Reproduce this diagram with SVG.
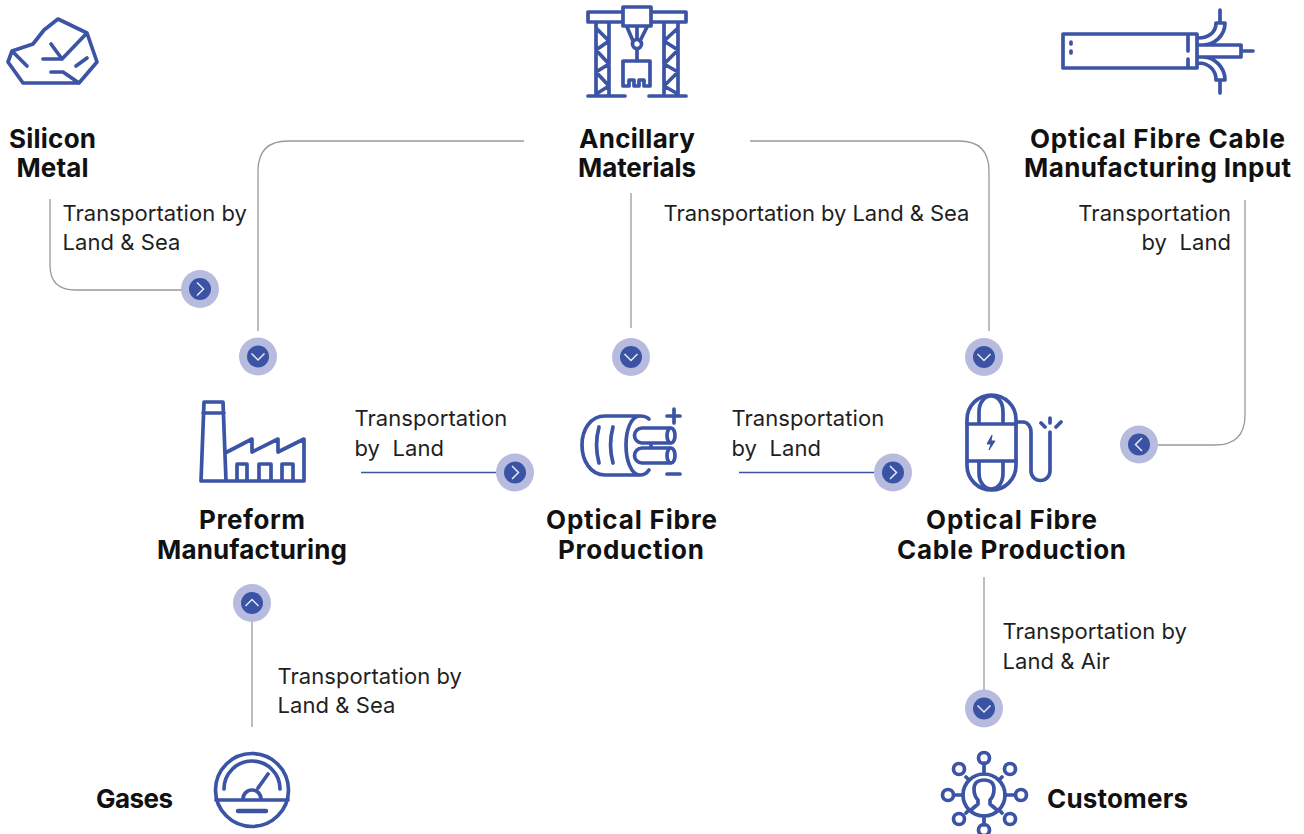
<svg xmlns="http://www.w3.org/2000/svg" width="1304" height="834" viewBox="0 0 1304 834">
<style>
.t{font-family:"Inter","Liberation Sans",sans-serif;font-size:22px;letter-spacing:.06px;fill:#1f1f1f}
.h{font-family:"Inter","Liberation Sans",sans-serif;font-size:26px;font-weight:700;fill:#111;text-anchor:middle}
.i{fill:none;stroke:#3b54a5;stroke-width:3.7;stroke-linejoin:round;stroke-linecap:round}
.g{fill:none;stroke:#9a9a9a;stroke-width:1.3}
.b{fill:none;stroke:#3b54a5;stroke-width:1.3}
.ch{fill:none;stroke:#e8e9f4;stroke-width:1.5}
</style>
<defs>
<g id="badge"><circle r="19" fill="#b7bcdf"/><circle r="11" fill="#3a53a4"/><path class="ch" d="M-3-6.500 3.500 0-3 6.500"/></g>
</defs>
<g id="connectors">
<path class="g" d="M50 199V265Q50 290 75 290H182"/>
<path class="g" d="M524 141H288Q258 141 258 171V331"/>
<path class="g" d="M631 193V328"/>
<path class="g" d="M750 141H959Q989 141 989 171V331"/>
<path class="g" d="M1245 200V415Q1245 445 1215 445H1157"/>
<path class="b" d="M361 472.500H497"/>
<path class="b" d="M739 472.500H875"/>
<path class="g" d="M252 621V727"/>
<path class="g" d="M984 577V691"/>
<use href="#badge" transform="translate(200 289)"/>
<use href="#badge" transform="translate(258 356.500) rotate(90)"/>
<use href="#badge" transform="translate(631 357) rotate(90)"/>
<use href="#badge" transform="translate(984 357) rotate(90)"/>
<use href="#badge" transform="translate(1139 444.500) rotate(180)"/>
<use href="#badge" transform="translate(515 472.500)"/>
<use href="#badge" transform="translate(893 472.500)"/>
<use href="#badge" transform="translate(252 603) rotate(-90)"/>
<use href="#badge" transform="translate(984 708.500) rotate(90)"/>
<text class="t" x="62.500" y="221">Transportation by</text>
<text class="t" x="62.500" y="250">Land &amp; Sea</text>
<text class="t" x="663.500" y="221" textLength="306">Transportation by Land &amp; Sea</text>
<text class="t" x="1231" y="221" text-anchor="end">Transportation</text>
<text class="t" x="1231" y="250" text-anchor="end" xml:space="preserve">by  Land</text>
<text class="t" x="354.500" y="426">Transportation</text>
<text class="t" x="354.500" y="456" xml:space="preserve">by  Land</text>
<text class="t" x="731.500" y="426">Transportation</text>
<text class="t" x="731.500" y="456" xml:space="preserve">by  Land</text>
<text class="t" x="277.500" y="684">Transportation by</text>
<text class="t" x="277.500" y="713">Land &amp; Sea</text>
<text class="t" x="1002.500" y="639">Transportation by</text>
<text class="t" x="1002.500" y="669">Land &amp; Air</text>
</g>
<g id="silicon-metal">
<path class="i" d="M58 19 87 33 97 62 79 83H23L8 62 12 51 33 44 44 30ZM87 33 62 59H43M51 44 62 59M12 51 27 66M76 66 87 58M51 72H63L79 83"/>
<text class="h" x="52.500" y="148" textLength="87">Silicon</text><text class="h" x="52.500" y="177" textLength="72">Metal</text>
</g>
<g id="ancillary-materials">
<path class="i" d="M623 12H588V22H623M651 12H686V22H651M623 7H651V26H623ZM596 22V96M609 22V96M664 22V96M678 22V96M588 96H625M649 96H686M596 28 609 41 596 50 609 64 596 72 609 86 596 94M678 28 664 41 678 50 664 64 678 72 664 86 678 94M627 27 633 41M647 27 640 41M637 26V39M637 49V60"/>
<circle class="i" cx="637" cy="44" r="4.500"/>
<path class="i" d="M623 61H650V86H644V80H639V86H634V80H629V86H623Z"/>
<text class="h" x="637" y="148" textLength="116">Ancillary</text><text class="h" x="637" y="177" textLength="118">Materials</text>
</g>
<g id="cable-input">
<path class="i" d="M1197 45H1241V57H1197M1241 51H1253M1188 36V51M1188 59V67M1063 34H1197V68H1063ZM1198 38C1209 38 1216 32 1216 23H1225C1225 36 1214 45 1203 45M1220 10V23M1198 63C1209 63 1216 70 1216 80H1225C1225 67 1214 57 1203 57M1220 80V93M1071 42V44M1071 51V53"/>
<text class="h" x="1157.500" y="148" textLength="255">Optical Fibre Cable</text><text class="h" x="1157.500" y="177" textLength="267">Manufacturing Input</text>
</g>
<g id="preform-manufacturing">
<path class="i" d="M204 402H223L226 481H201ZM203 413H224M201 481H304V439L278 452V439L252 452V439L227 452M237 481V464H247V481M259 481V464H271V481M282 481V464H293V481"/>
<text class="h" x="252" y="529" textLength="106">Preform</text><text class="h" x="252" y="558.500" textLength="190">Manufacturing</text>
</g>
<g id="fibre-production">
<path class="i" d="M640 416H605C590 416 582 430 582 445 582 460 590 475 605 475H640C631 475 626 460 626 445 626 430 631 416 640 416 644 416 647 417 649 419M640 475C644 475 647 473 649 470M599 427C596 438 596 452 599 463M613 427C610 438 610 452 613 463M670 428H642A7.500 7.500 0 0 0 642 443H670M670 448H642A7.500 7.500 0 0 0 642 463H670M651 443V448M667 416H680M674 409V423M667 474H680"/>
<ellipse class="i" cx="671" cy="435.500" rx="4" ry="7.500"/><ellipse class="i" cx="671" cy="455.500" rx="4" ry="7.500"/>
<text class="h" x="631.500" y="529" textLength="171">Optical Fibre</text><text class="h" x="631" y="558.500" textLength="146">Production</text>
</g>
<g id="cable-production">
<rect class="i" x="967" y="395" width="49" height="95" rx="24.500"/>
<path class="i" d="M967 424H1016M967 461H1016M979 424V412C979 402 985 396 991 396 998 396 1003 402 1003 412V424M979 461V473C979 483 985 489 991 489 998 489 1003 483 1003 473V461M1016 422H1023C1028 422 1031 427 1031 432V471A9.500 9.500 0 0 0 1050 471V432M1050 418V423M1041 423 1045 427M1061 422 1056 427"/>
<path d="M992 435 987 444H991L989 450 995 441H991Z" fill="#3b54a5" stroke="#3b54a5"/>
<text class="h" x="1011.500" y="529" textLength="171">Optical Fibre</text><text class="h" x="1011.500" y="558.500" textLength="229">Cable Production</text>
</g>
<g id="gases">
<circle class="i" cx="252" cy="790" r="36.500"/>
<path class="i" d="M224 789A28 28 0 0 1 280 789M216 800H288M243 799A9 9 0 0 1 261 799M258 788 268 774"/>
<path d="M238 811H266" fill="none" stroke="#3b54a5" stroke-width="4.500" stroke-linecap="round"/>
<text class="h" x="134.500" y="808" textLength="77">Gases</text>
</g>
<g id="customers">
<circle class="i" cx="984" cy="795" r="21"/>
<path class="i" d="M984 763V774M966 777 969 780M1002 777 999 780M954 795H963M1005 795H1015M966 813 969 810M1002 813 999 810M984 816V825M971 810 978 804V800C975 797 974 793 974 789 974 783 978 780 984 780 990 780 994 783 994 789 994 793 993 797 990 800V804L997 810"/>
<circle class="i" cx="984" cy="758" r="5.500"/><circle class="i" cx="959" cy="769" r="5.500"/><circle class="i" cx="1010" cy="769" r="5.500"/><circle class="i" cx="948" cy="795" r="5.500"/><circle class="i" cx="1021" cy="795" r="5.500"/><circle class="i" cx="959" cy="819" r="5.500"/><circle class="i" cx="1010" cy="819" r="5.500"/><circle class="i" cx="984" cy="830" r="5.500"/>
<text class="h" x="1117.500" y="808" textLength="141">Customers</text>
</g>
</svg>
